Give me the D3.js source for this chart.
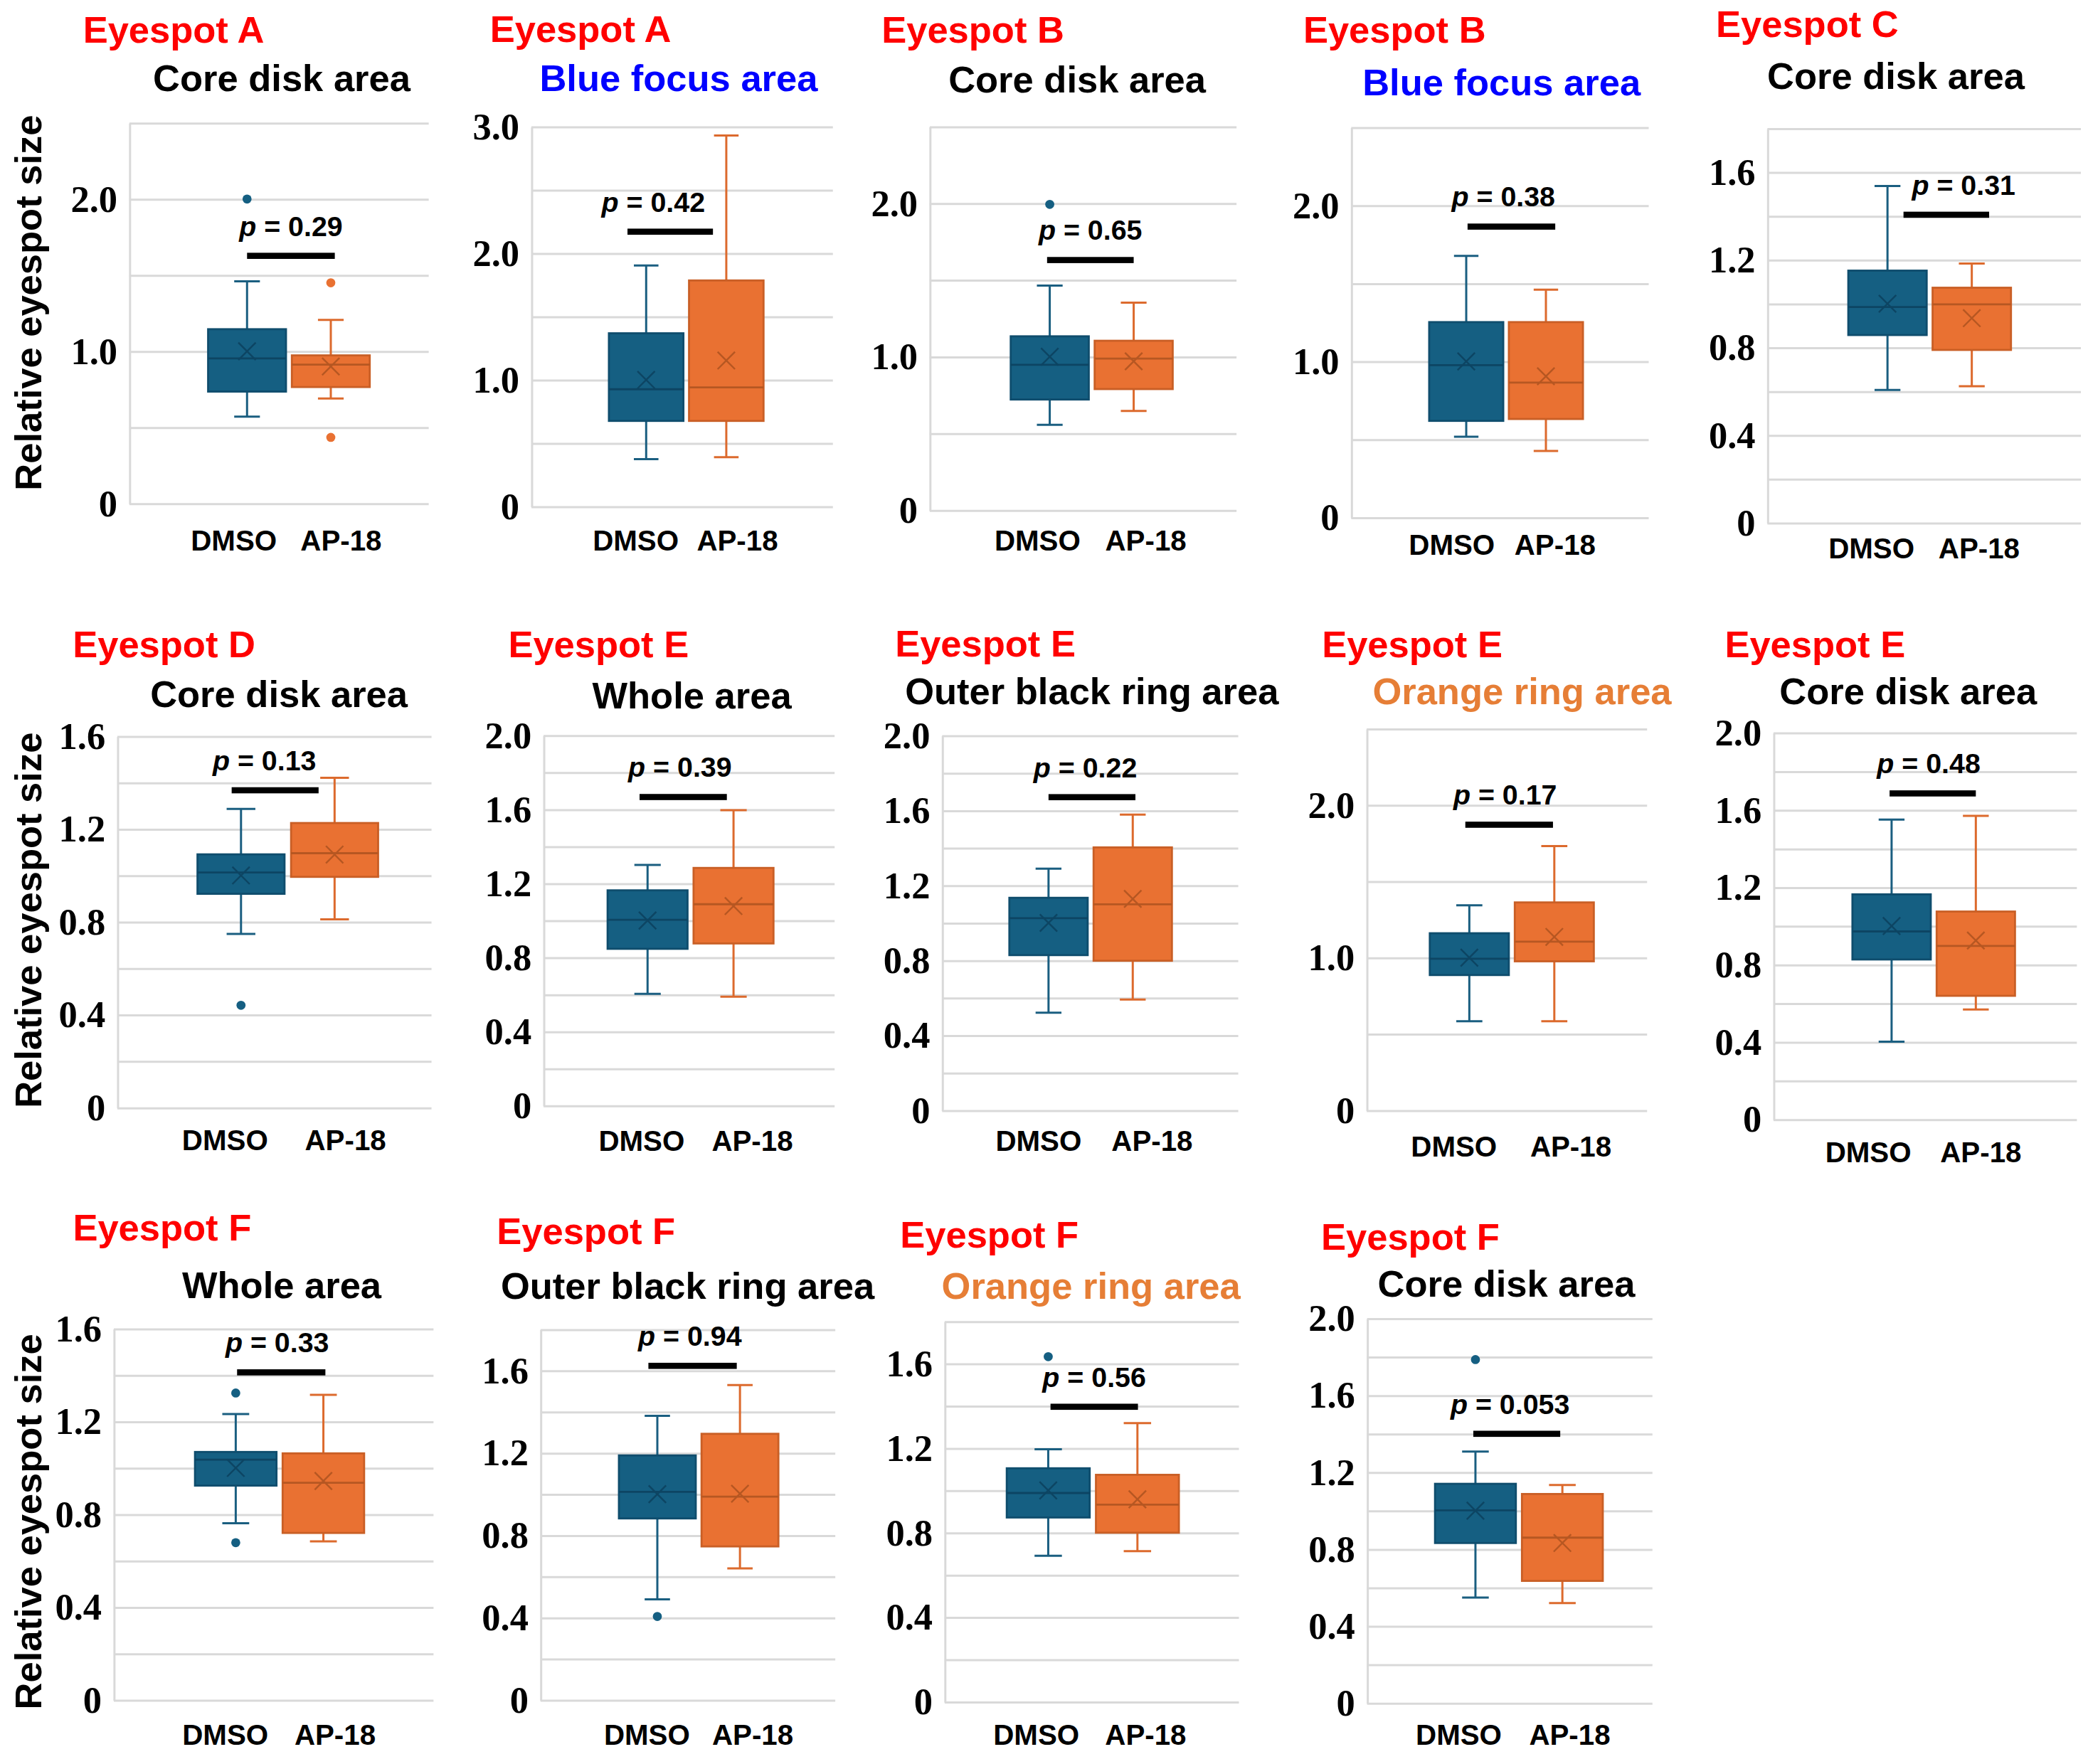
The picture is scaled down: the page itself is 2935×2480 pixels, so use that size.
<!DOCTYPE html>
<html>
<head>
<meta charset="utf-8">
<script src="https://cdn.jsdelivr.net/npm/d3@7"></script>
<style>
  body { margin: 0; background: #fff; }
</style>
</head>
<body>
<svg id="chart"></svg>
<script>
// ---- data ----
const groups = ["DMSO", "AP-18"];

const eyespots = ["Eyespot A", "Eyespot A", "Eyespot B", "Eyespot B", "Eyespot C",
  "Eyespot D", "Eyespot E", "Eyespot E", "Eyespot E", "Eyespot E",
  "Eyespot F", "Eyespot F", "Eyespot F", "Eyespot F"];

const areas = ["Core disk area", "Blue focus area", "Core disk area", "Blue focus area", "Core disk area",
  "Core disk area", "Whole area", "Outer black ring area", "Orange ring area", "Core disk area",
  "Whole area", "Outer black ring area", "Orange ring area", "Core disk area"];

// [lower whisker, Q1, median, Q3, upper whisker, mean]
const dmsoStats = [
  [0.57, 0.735, 0.953, 1.145, 1.46, 1.0],
  [0.374, 0.676, 0.926, 1.368, 1.903, 1.0],
  [0.556, 0.721, 0.947, 1.133, 1.464, 1.0],
  [0.517, 0.619, 0.976, 1.252, 1.676, 1.0],
  [0.606, 0.857, 0.985, 1.151, 1.537, 1.0],
  [0.748, 0.921, 1.013, 1.091, 1.287, 1.0],
  [0.604, 0.847, 1.004, 1.163, 1.30, 1.0],
  [0.521, 0.828, 1.025, 1.134, 1.289, 1.0],
  [0.583, 0.886, 0.993, 1.16, 1.343, 1.0],
  [0.402, 0.827, 0.972, 1.164, 1.551, 1.0],
  [0.762, 0.924, 1.036, 1.069, 1.232, 1.0],
  [0.489, 0.882, 1.011, 1.188, 1.38, 1.0],
  [0.691, 0.872, 0.988, 1.105, 1.195, 1.0],
  [0.548, 0.832, 1.002, 1.14, 1.308, 1.0]
];
const ap18Stats = [
  [0.69, 0.765, 0.912, 0.973, 1.206, 0.90],
  [0.39, 0.676, 0.941, 1.785, 2.93, 1.153],
  [0.646, 0.789, 0.988, 1.104, 1.352, 0.97],
  [0.426, 0.631, 0.864, 1.252, 1.46, 0.905],
  [0.623, 0.789, 0.997, 1.073, 1.183, 0.934],
  [0.811, 0.994, 1.096, 1.226, 1.421, 1.09],
  [0.588, 0.876, 1.088, 1.284, 1.596, 1.078],
  [0.591, 0.798, 1.099, 1.403, 1.578, 1.128],
  [0.583, 0.976, 1.105, 1.362, 1.731, 1.136],
  [0.568, 0.639, 0.897, 1.075, 1.57, 0.925],
  [0.684, 0.72, 0.936, 1.063, 1.315, 0.944],
  [0.639, 0.746, 0.988, 1.293, 1.53, 1.002],
  [0.713, 0.80, 0.933, 1.074, 1.319, 0.958],
  [0.52, 0.635, 0.86, 1.087, 1.134, 0.832]
];
const dmsoOutliers = [[2.0], [], [1.993], [], [], [0.441], [], [], [], [], [1.323, 0.678], [0.406], [1.633], [1.786]];
const ap18Outliers = [[1.45, 0.434], [], [], [], [], [], [], [], [], [], [], [], [], []];

const pValues = ["0.29", "0.42", "0.65", "0.38", "0.31", "0.13", "0.39", "0.22", "0.17", "0.48", "0.33", "0.94", "0.56", "0.053"];
const pBarLevels = [1.627, 2.17, 1.63, 1.864, 1.406, 1.367, 1.667, 1.671, 1.871, 1.686, 1.412, 1.623, 1.396, 1.40];

const yMax = [2.5, 3.0, 2.5, 2.5, 1.8, 1.6, 2.0, 2.0, 2.5, 2.0, 1.6, 1.8, 1.8, 2.0];
const gridStep = [0.5, 0.5, 0.5, 0.5, 0.2, 0.2, 0.2, 0.2, 0.5, 0.2, 0.2, 0.2, 0.2, 0.2];
const tickLabels = [
  ["0", "1.0", "2.0"],
  ["0", "1.0", "2.0", "3.0"],
  ["0", "1.0", "2.0"],
  ["0", "1.0", "2.0"],
  ["0", "0.4", "0.8", "1.2", "1.6"],
  ["0", "0.4", "0.8", "1.2", "1.6"],
  ["0", "0.4", "0.8", "1.2", "1.6", "2.0"],
  ["0", "0.4", "0.8", "1.2", "1.6", "2.0"],
  ["0", "1.0", "2.0"],
  ["0", "0.4", "0.8", "1.2", "1.6", "2.0"],
  ["0", "0.4", "0.8", "1.2", "1.6"],
  ["0", "0.4", "0.8", "1.2", "1.6"],
  ["0", "0.4", "0.8", "1.2", "1.6"],
  ["0", "0.4", "0.8", "1.2", "1.6", "2.0"]
];
const yTitle = "Relative eyespot size";

// ---- layout (view units; 1 unit = 1.875 px) ----
// plot rect [left, top, right, bottom]
const plotRects = [
  [97, 92.2, 321.4, 377.5], [398.4, 94.9, 624.4, 379.8], [697, 94.9, 927, 382.5],
  [1013, 95.5, 1236, 388], [1325, 96.3, 1560, 392],
  [88, 552, 323.5, 830.5], [407.5, 551.4, 625.7, 829], [706.3, 551.5, 928.3, 832.5],
  [1024.6, 546.4, 1234.8, 832.5], [1329.6, 549.4, 1557, 839.3],
  [85.3, 996.3, 325, 1274.7], [405.2, 996.8, 626.2, 1274.7], [708.2, 990.8, 928.8, 1276],
  [1024.9, 988.6, 1238.8, 1276.9]
];
// box band span as fraction of plot width
const bandSpans = [
  [0.263, 0.803], [0.257, 0.770], [0.264, 0.792], [0.262, 0.779], [0.258, 0.777],
  [0.255, 0.83], [0.22, 0.79], [0.227, 0.776], [0.225, 0.81], [0.26, 0.796],
  [0.254, 0.783], [0.266, 0.807], [0.211, 0.796], [0.238, 0.826]
];
// [title x, title baseline, subtitle x, subtitle baseline]
const titlePos = [
  [62.2, 32.1, 114.7, 68.4], [367.3, 31.3, 404.5, 68.4], [660.9, 32, 711, 69.3],
  [977, 32, 1021.4, 71.2], [1286.4, 27.9, 1324.8, 66.5],
  [54.5, 493, 112.6, 530], [381, 493, 444, 531], [671, 492, 678.5, 528],
  [991, 493, 1029, 528], [1293, 493, 1334, 528],
  [54.6, 930, 136.5, 973.1], [372.4, 932.8, 375.4, 974], [674.8, 935.5, 705.9, 974],
  [990.4, 936.9, 1032.8, 972.3]
];
// [DMSO label x, AP-18 label x, baseline]
const labelPos = [
  [175.3, 255.7, 412.7], [476.6, 552.8, 412.7], [777.8, 859, 412.7], [1088.4, 1165.8, 416],
  [1403, 1483.7, 418.8],
  [168.7, 259, 862.5], [481, 564, 863], [778.6, 863.7, 863], [1090, 1177.6, 867],
  [1400.6, 1485, 871.5],
  [168.9, 251.2, 1308], [485, 564.3, 1308], [776.9, 858.9, 1308], [1093.6, 1176.8, 1308]
];
// p bar end offsets from box centres and p text x shift
const pBarShift = [
  [0, 3, 0], [-14, -10, -12.7], [-2, 0, 0], [1, 7, -6], [12, 13, 13],
  [-7, -12, -8], [-6, -5, -2.4], [0, 2, -5], [-3, -1, -3], [-1.5, 0, -3],
  [1, 1.5, -3], [-6.7, -2.4, -2], [1.7, 0.4, 0], [-1.6, -1.6, -5]
];
const subColors = ["#000", "#0000ff", "#000", "#0000ff", "#000",
  "#000", "#000", "#000", "#e67e36", "#000",
  "#000", "#000", "#e67e36", "#000"];
const yTitlePos = [227, 690, 1141];

const fill = ["#155f82", "#e97132"];
const edge = ["#0f4d6d", "#c95f26"];
const whisk = ["#1a5e80", "#dc6a2d"];
const inner = ["#0d4563", "#b65722"];

const SANS = "'Liberation Sans', Arial, Helvetica, sans-serif";
const SERIF = "'Liberation Serif', 'Times New Roman', Times, serif";

const S = 1.875;
const svg = d3.select("#chart")
  .attr("width", 2935)
  .attr("height", 2480)
  .attr("viewBox", `0 0 ${2935 / S} ${2480 / S}`);

svg.append("rect").attr("width", 2935 / S).attr("height", 2480 / S).attr("fill", "#fff");

eyespots.forEach((spot, i) => {
  const [x0, y0, x1, y1] = plotRects[i];
  const w = x1 - x0, h = y1 - y0;

  const y = d3.scaleLinear().domain([0, yMax[i]]).range([h, 0]);
  const x = d3.scaleBand()
    .domain(groups)
    .range([bandSpans[i][0] * w, bandSpans[i][1] * w])
    .paddingInner(0.07);
  const bw = x.bandwidth();

  const g = svg.append("g").attr("transform", `translate(${x0},${y0})`);

  // gridlines + labels
  const grid = d3.range(0, yMax[i] + 1e-6, gridStep[i]).map(v => +v.toFixed(2));
  const labelled = new Map(tickLabels[i].map(t => [+t, t]));
  const axis = d3.axisLeft(y)
    .tickValues(grid)
    .tickSize(-w)
    .tickSizeOuter(0)
    .tickPadding(9)
    .tickFormat(v => labelled.get(+v.toFixed(2)) || "");
  const ag = g.append("g").call(axis);
  ag.select(".domain").attr("stroke", "#d9d9d9").attr("stroke-width", 1.6);
  ag.selectAll(".tick line").attr("stroke", "#d9d9d9").attr("stroke-width", 1.6);
  ag.selectAll(".tick text")
    .attr("font-family", SERIF)
    .attr("font-weight", "bold")
    .attr("font-size", 28)
    .attr("fill", "#000");

  // boxes
  groups.forEach((grp, k) => {
    const st = (k === 0 ? dmsoStats : ap18Stats)[i];
    const outs = (k === 0 ? dmsoOutliers : ap18Outliers)[i];
    const [lo, q1, med, q3, hi, mean] = st;
    const cx = x(grp) + bw / 2;
    const cap = bw * 0.33;
    const bg = g.append("g");

    bg.append("line").attr("x1", cx).attr("x2", cx).attr("y1", y(q3)).attr("y2", y(hi))
      .attr("stroke", whisk[k]).attr("stroke-width", 1.6);
    bg.append("line").attr("x1", cx).attr("x2", cx).attr("y1", y(q1)).attr("y2", y(lo))
      .attr("stroke", whisk[k]).attr("stroke-width", 1.6);
    [lo, hi].forEach(v => {
      bg.append("line").attr("x1", cx - cap / 2).attr("x2", cx + cap / 2)
        .attr("y1", y(v)).attr("y2", y(v))
        .attr("stroke", whisk[k]).attr("stroke-width", 1.6);
    });

    bg.append("rect")
      .attr("x", x(grp)).attr("y", y(q3))
      .attr("width", bw).attr("height", y(q1) - y(q3))
      .attr("fill", fill[k]).attr("stroke", edge[k]).attr("stroke-width", 1.5);

    bg.append("line").attr("x1", x(grp)).attr("x2", x(grp) + bw)
      .attr("y1", y(med)).attr("y2", y(med))
      .attr("stroke", inner[k]).attr("stroke-width", 1.5);

    const m = 6.5;
    bg.append("path")
      .attr("d", `M${cx - m},${y(mean) - m}L${cx + m},${y(mean) + m}M${cx - m},${y(mean) + m}L${cx + m},${y(mean) - m}`)
      .attr("stroke", inner[k]).attr("stroke-width", 1.3).attr("fill", "none");

    bg.selectAll("circle.out").data(outs).enter().append("circle")
      .attr("class", "out")
      .attr("cx", cx).attr("cy", d => y(d)).attr("r", 3.4)
      .attr("fill", fill[k]);
  });

  // p bar + text
  const [o1, o2, tdx] = pBarShift[i];
  const bx0 = x(groups[0]) + bw / 2 + o1;
  const bx1 = x(groups[1]) + bw / 2 + o2;
  const by = y(pBarLevels[i]);
  g.append("rect").attr("x", bx0).attr("y", by - 2.3).attr("width", bx1 - bx0).attr("height", 4.6).attr("fill", "#000");
  const pt = g.append("text")
    .attr("x", (bx0 + bx1) / 2 + tdx).attr("y", by - 15)
    .attr("text-anchor", "middle")
    .attr("font-family", SANS).attr("font-weight", "bold").attr("font-size", 21)
    .attr("fill", "#000");
  pt.append("tspan").attr("font-style", "italic").text("p");
  pt.append("tspan").text(" = " + pValues[i]);

  // group labels
  const [lx0, lx1, ly] = labelPos[i];
  [lx0, lx1].forEach((lx, k) => {
    svg.append("text").attr("x", lx).attr("y", ly)
      .attr("text-anchor", "middle")
      .attr("font-family", SANS).attr("font-weight", "bold").attr("font-size", 21.5)
      .attr("fill", "#000")
      .text(groups[k]);
  });

  // titles
  const [tx, ty, sx, sy] = titlePos[i];
  svg.append("text").attr("x", tx).attr("y", ty)
    .attr("font-family", SANS).attr("font-weight", "bold").attr("font-size", 28)
    .attr("fill", "#ff0000").text(spot);
  svg.append("text").attr("x", sx).attr("y", sy)
    .attr("font-family", SANS).attr("font-weight", "bold").attr("font-size", 28)
    .attr("fill", subColors[i]).text(areas[i]);
});

// row y-axis titles
yTitlePos.forEach(cy => {
  svg.append("text")
    .attr("transform", `translate(31,${cy}) rotate(-90)`)
    .attr("text-anchor", "middle")
    .attr("font-family", SANS).attr("font-weight", "bold").attr("font-size", 28)
    .attr("fill", "#000")
    .text(yTitle);
});
</script>
</body>
</html>
